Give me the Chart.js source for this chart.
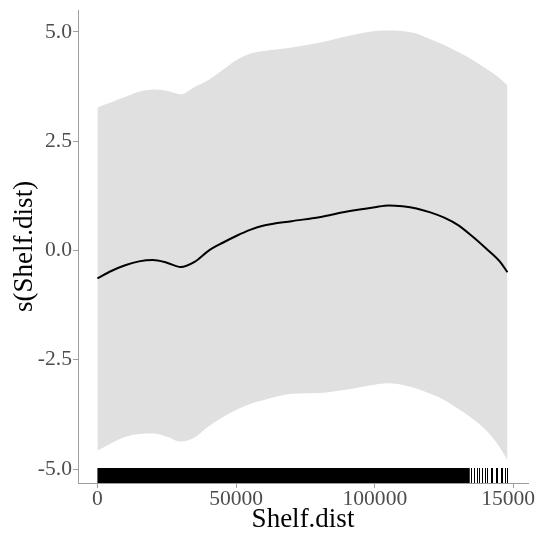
<!DOCTYPE html>
<html>
<head>
<meta charset="utf-8">
<script src="https://cdn.jsdelivr.net/npm/chart.js@4/dist/chart.umd.min.js"></script>
<style>
  html, body { margin: 0; padding: 0; background: #ffffff; overflow: hidden; }
  #wrap { width: 536px; height: 540px; position: relative; }
</style>
</head>
<body>
<div id="wrap"><canvas id="c"></canvas></div>
<script>
// Shelf.dist grid
const shelfDist = [0, 5000, 10000, 15000, 20000, 25000, 30000, 35000, 40000, 45000, 50000, 55000, 60000, 70000, 80000, 90000, 100000, 105000, 110000, 115000, 120000, 125000, 130000, 135000, 140000, 145000, 147800];
// smooth estimate s(Shelf.dist)
const fitValues = [-0.64, -0.47, -0.34, -0.25, -0.22, -0.28, -0.38, -0.26, -0.01, 0.17, 0.33, 0.47, 0.57, 0.67, 0.76, 0.89, 0.99, 1.03, 1.01, 0.96, 0.87, 0.75, 0.58, 0.33, 0.05, -0.25, -0.50];
// upper and lower confidence band
const upperValues = [3.27, 3.39, 3.51, 3.63, 3.68, 3.65, 3.57, 3.74, 3.90, 4.12, 4.35, 4.50, 4.56, 4.64, 4.75, 4.90, 5.02, 5.03, 5.02, 4.96, 4.83, 4.70, 4.54, 4.37, 4.16, 3.94, 3.78];
const lowerValues = [-4.58, -4.41, -4.27, -4.20, -4.19, -4.26, -4.37, -4.28, -4.03, -3.82, -3.65, -3.51, -3.42, -3.28, -3.26, -3.18, -3.07, -3.04, -3.08, -3.16, -3.28, -3.42, -3.62, -3.84, -4.11, -4.50, -4.80];
// rug: dense stretch of observations and the sparse ones beyond it
const rugDenseRange = [0, 134200];
const rugSparse = [134500, 135600, 136700, 137400, 138500, 139600, 140300, 141700, 142400, 143500, 144200, 145300, 146000, 146800, 147500];
// tick values
const xTicks = [0, 50000, 100000, 150000];
const yTicks = [-5, -2.5, 0, 2.5, 5];

const toPts = (ys) => shelfDist.map((x, i) => ({ x: x, y: ys[i] }));

const rugPlugin = {
  id: 'rug',
  afterDatasetsDraw(chart) {
    const ctx = chart.ctx;
    const xs = chart.scales.x;
    const bottom = chart.chartArea.bottom;
    const len = 15;
    ctx.save();
    ctx.fillStyle = '#000';
    const x0 = xs.getPixelForValue(rugDenseRange[0]);
    const x1 = xs.getPixelForValue(rugDenseRange[1]);
    ctx.fillRect(x0, bottom - len, x1 - x0, len);
    ctx.strokeStyle = '#000';
    ctx.lineWidth = 1;
    rugSparse.forEach(v => {
      const px = Math.round(xs.getPixelForValue(v)) + 0.5;
      ctx.beginPath();
      ctx.moveTo(px, bottom - len);
      ctx.lineTo(px, bottom);
      ctx.stroke();
    });
    ctx.restore();
  }
};

const tickFont = { family: '"Liberation Serif", "Times New Roman", serif', size: 21.6 };
const titleFont = { family: '"Liberation Serif", "Times New Roman", serif', size: 27 };

new Chart(document.getElementById('c'), {
  type: 'line',
  data: {
    datasets: [
      { label: 'upper', data: toPts(upperValues), borderWidth: 0, pointRadius: 0, order: 2,
        backgroundColor: '#e0e0e0', fill: '+1', cubicInterpolationMode: 'monotone' },
      { label: 'lower', data: toPts(lowerValues), borderWidth: 0, pointRadius: 0, order: 1,
        backgroundColor: '#e0e0e0', fill: false, cubicInterpolationMode: 'monotone' },
      { label: 'fit', data: toPts(fitValues), borderColor: '#000', borderWidth: 2, pointRadius: 0, order: 0,
        fill: false, cubicInterpolationMode: 'monotone' }
    ]
  },
  options: {
    responsive: true,
    maintainAspectRatio: false,
    animation: false,
    devicePixelRatio: 1,
    layout: { padding: { top: 10, right: 8, left: 0, bottom: 0 } },
    plugins: { legend: { display: false }, tooltip: { enabled: false } },
    scales: {
      x: {
        type: 'linear',
        min: -7000,
        max: 155200,
        afterBuildTicks: (s) => { s.ticks = xTicks.map(v => ({ value: v })); },
        afterFit: (s) => { s.height = 57; s.paddingLeft = 0; s.paddingRight = 0; },
        grid: { drawOnChartArea: false, drawTicks: true, tickLength: 5, color: '#9e9e9e', lineWidth: 1 },
        border: { display: true, color: '#9e9e9e', width: 1 },
        ticks: { color: '#4d4d4d', font: tickFont, padding: -2, maxRotation: 0, autoSkip: false,
                 callback: (v) => String(v) },
        title: { display: true, text: 'Shelf.dist', color: '#000', font: titleFont,
                 padding: { top: 0, bottom: 4 } }
      },
      y: {
        type: 'linear',
        min: -5.32,
        max: 5.5,
        afterBuildTicks: (s) => { s.ticks = yTicks.map(v => ({ value: v })); },
        afterFit: (s) => { s.width = 78; s.paddingTop = 0; s.paddingBottom = 0; },
        grid: { drawOnChartArea: false, drawTicks: true, tickLength: 5, color: '#9e9e9e', lineWidth: 1 },
        border: { display: true, color: '#9e9e9e', width: 1 },
        ticks: { color: '#4d4d4d', font: tickFont, padding: 1, autoSkip: false,
                 callback: (v) => v.toFixed(1) },
        title: { display: true, text: 's(Shelf.dist)', color: '#000', font: titleFont,
                 padding: { top: 9, bottom: 0 } }
      }
    }
  },
  plugins: [rugPlugin]
});
</script>
</body>
</html>
